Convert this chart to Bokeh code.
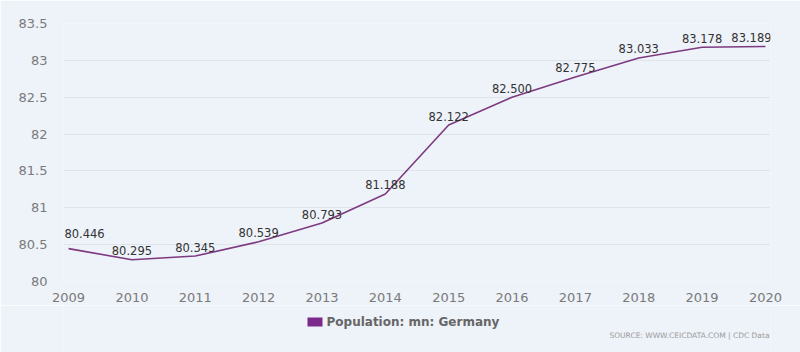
from bokeh.plotting import figure
from bokeh.layouts import column
from bokeh.models import ColumnDataSource, FixedTicker, Range1d
from bokeh.embed import file_html
from bokeh.resources import INLINE
from bokeh.core.properties import value

years = [2009, 2010, 2011, 2012, 2013, 2014, 2015, 2016, 2017, 2018, 2019, 2020]
population = [80.446, 80.295, 80.345, 80.539, 80.793, 81.188, 82.122, 82.500, 82.775, 83.033, 83.178, 83.189]
series_name = "Population: mn: Germany"
y_ticks = [80, 80.5, 81, 81.5, 82, 82.5, 83, 83.5]
source_note = "SOURCE: WWW.CEICDATA.COM | CDC Data"

BG = "#eef2f9"
LINE = "#7d3a80"
SWATCH = "#7b2a8b"
FONT = "DejaVu Sans"

labels = [f"{v:.3f}" for v in population]
xoff = [0] * len(years)
xoff[0] = 16
xoff[-1] = -14
yoff = [-9] * len(years)
yoff[0] = -15
src = ColumnDataSource(dict(x=years, y=population, lab=labels, xoff=xoff, yoff=yoff))

MAIN_H = 305
p = figure(width=800, height=MAIN_H, output_backend="svg", toolbar_location=None,
           x_range=(2009 - 0.08, 2020 + 0.08), y_range=(80, 83.5),
           min_border_left=63, min_border_right=30, min_border_top=23, min_border_bottom=24)
p.background_fill_color = BG
p.border_fill_color = BG
p.outline_line_color = None

p.line("x", "y", source=src, line_color=LINE, line_width=1.6)
p.text("x", "y", text="lab", source=src, x_offset="xoff", y_offset="yoff",
       text_align="center", text_baseline="middle", text_color="#333333",
       text_font=value(FONT), text_font_size="11.5px")

p.xaxis.ticker = FixedTicker(ticks=years)
p.yaxis.ticker = FixedTicker(ticks=y_ticks)
p.yaxis.major_label_overrides = {80: "80", 81: "81", 82: "82", 83: "83"}
for ax in (p.xaxis[0], p.yaxis[0]):
    ax.axis_line_color = None
    ax.major_tick_line_color = None
    ax.minor_tick_line_color = None
    ax.major_label_text_color = "#7a7a7a"
    ax.major_label_text_font = FONT
    ax.major_label_text_font_size = "13px"
p.yaxis.major_label_standoff = 10
p.xaxis.major_label_standoff = 5

p.xgrid.grid_line_color = None
p.ygrid.grid_line_color = "#dfe3ea"
p.ygrid.grid_line_width = 1

# footer with legend and source note (data units = screen pixels)
FOOT_H = 352 - MAIN_H
f = figure(width=800, height=FOOT_H, output_backend="svg", toolbar_location=None,
           x_range=Range1d(63, 770), y_range=Range1d(FOOT_H, 0),
           x_axis_location=None, y_axis_location=None,
           min_border_left=63, min_border_right=30,
           min_border_top=0, min_border_bottom=0)
f.grid.visible = False
f.outline_line_color = None
f.background_fill_color = BG
f.border_fill_color = BG

f.quad(left=[307], right=[322], top=[12], bottom=[21], fill_color=SWATCH, line_color=None)
f.text(x=[326], y=[16.5], text=[series_name], text_baseline="middle", text_align="left",
       text_color="#666666", text_font=value(FONT), text_font_size="12px",
       text_font_style="bold")
f.text(x=[769], y=[29.5], text=[source_note], text_baseline="middle", text_align="right",
       text_color="#9a9a9a", text_font=value(FONT), text_font_size="7.5px")

layout = column(p, f, spacing=0)
open("out.html", "w").write(file_html(layout, INLINE))
